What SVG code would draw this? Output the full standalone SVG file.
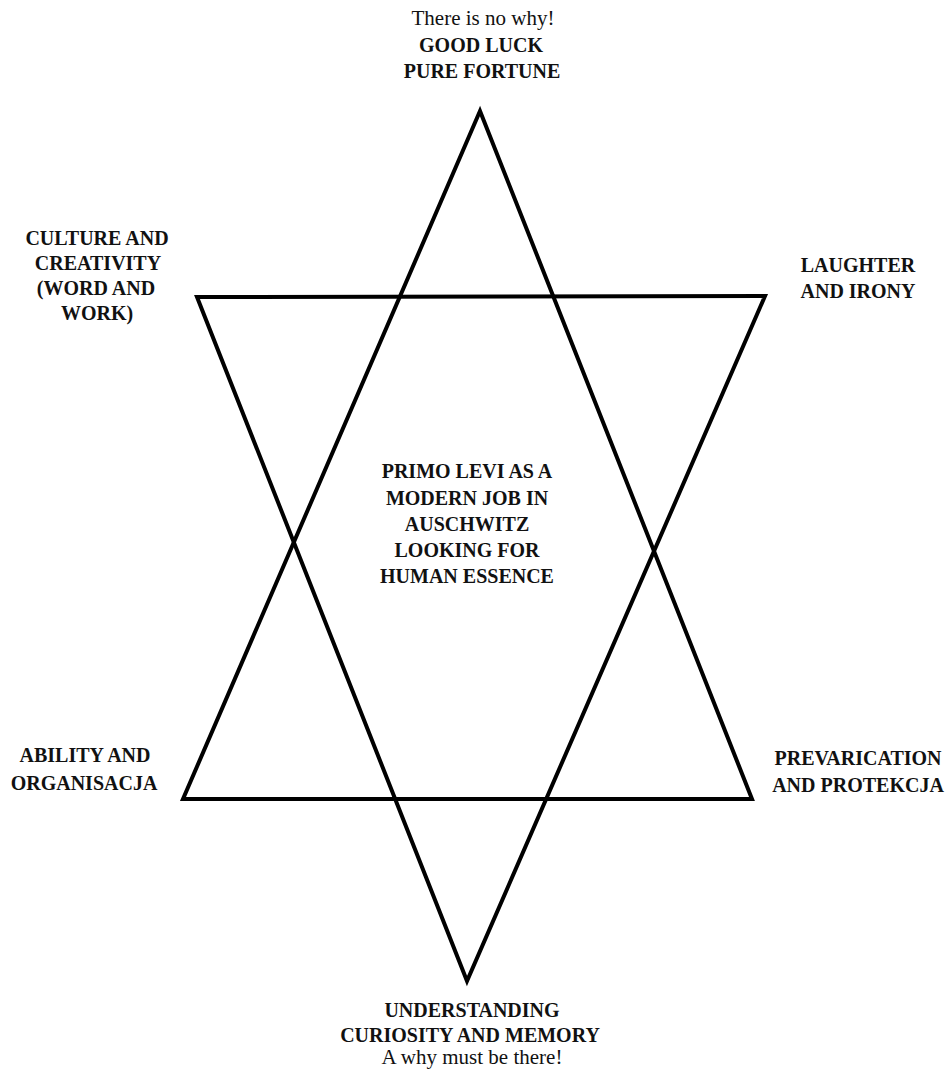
<svg xmlns="http://www.w3.org/2000/svg" width="949" height="1072" viewBox="0 0 949 1072">
<style>
.t{font-family:"Liberation Serif","Times New Roman",serif;font-size:20px;font-weight:bold;fill:#111;text-anchor:middle}
.i{font-weight:normal;font-size:21px}
.tri{fill:none;stroke:#000;stroke-width:4;stroke-linejoin:miter}
</style>
<rect width="949" height="1072" fill="#fff"/>
<g id="connectors">
<polygon class="tri" points="480,111 183,799 752,799"/>
<polygon class="tri" points="197,297 765,296 467,981"/>
</g>
<g id="top">
<text class="t" x="483" y="25"><tspan class="i">There is no why!</tspan><tspan x="481" y="52">GOOD LUCK</tspan><tspan x="482" y="78">PURE FORTUNE</tspan></text>
</g>
<g id="upper-left">
<text class="t" x="97" y="245">CULTURE AND<tspan x="98" y="270">CREATIVITY</tspan><tspan x="96" y="295">(WORD AND</tspan><tspan x="97" y="320">WORK)</tspan></text>
</g>
<g id="upper-right">
<text class="t" x="858" y="272">LAUGHTER<tspan x="858" y="298">AND IRONY</tspan></text>
</g>
<g id="center">
<text class="t" x="467" y="478">PRIMO LEVI AS A<tspan x="467" y="505">MODERN JOB IN</tspan><tspan x="467" y="531">AUSCHWITZ</tspan><tspan x="467" y="557">LOOKING FOR</tspan><tspan x="467" y="583">HUMAN ESSENCE</tspan></text>
</g>
<g id="lower-left">
<text class="t" x="85" y="762">ABILITY AND<tspan x="84" y="790">ORGANISACJA</tspan></text>
</g>
<g id="lower-right">
<text class="t" x="858" y="765">PREVARICATION<tspan x="858" y="792">AND PROTEKCJA</tspan></text>
</g>
<g id="bottom">
<text class="t" x="472" y="1017">UNDERSTANDING<tspan x="470" y="1042">CURIOSITY AND MEMORY</tspan><tspan class="i" x="472" y="1064">A why must be there!</tspan></text>
</g>
</svg>
